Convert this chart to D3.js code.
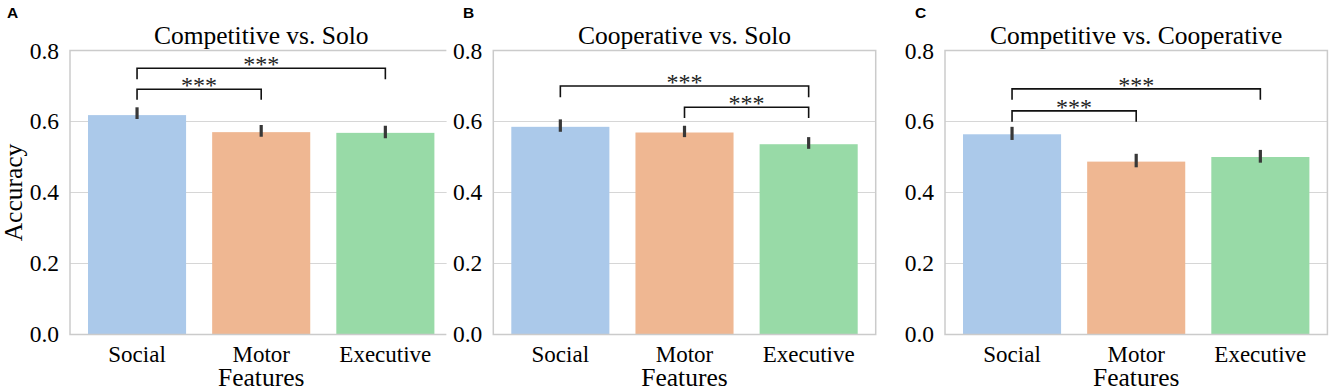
<!DOCTYPE html>
<html>
<head>
<meta charset="utf-8">
<script src="https://cdn.jsdelivr.net/npm/d3@7"></script>
<style>
  body { margin: 0; background: #fff; }
  svg { display: block; }
  text { fill: #000; }
</style>
</head>
<body>
<div id="chart"></div>
<script>
// Accuracy por conjunto de features, tres comparaciones
const features = ['Social', 'Motor', 'Executive'];
const colors = ['#abc9ea', '#efb792', '#98daa7'];
const yTicks = [0.0, 0.2, 0.4, 0.6, 0.8];

const titles = ['Competitive vs. Solo', 'Cooperative vs. Solo', 'Competitive vs. Cooperative'];
const letters = ['A', 'B', 'C'];

const means = [
  [0.618, 0.570, 0.568],
  [0.585, 0.569, 0.536],
  [0.564, 0.487, 0.500]
];
const ciLow = [
  [0.607, 0.557, 0.553],
  [0.571, 0.556, 0.523],
  [0.548, 0.471, 0.484]
];
const ciHigh = [
  [0.640, 0.590, 0.588],
  [0.606, 0.588, 0.556],
  [0.585, 0.509, 0.520]
];

// brackets: [from, to, line level, tip level]
const brackets = [
  [['Social', 'Executive', 0.750, 0.719], ['Social', 'Motor', 0.691, 0.661]],
  [['Social', 'Executive', 0.700, 0.668], ['Motor', 'Executive', 0.640, 0.610]],
  [['Social', 'Executive', 0.692, 0.661], ['Social', 'Motor', 0.630, 0.599]]
];
const sigLabel = '***';

const W = 1331, H = 391;
const panelLeft = [70, 493.3, 945];
const pw = 382.4, plotTop = 50.5, plotBottom = 334.5;
const clipA = 376.6; // el panel A viene recortado a la derecha
const serif = '"Liberation Serif", "Times New Roman", serif';

const svg = d3.select('#chart').append('svg')
  .attr('width', W).attr('height', H)
  .style('font-family', serif);

svg.append('defs').append('clipPath').attr('id', 'clipA')
  .append('rect').attr('x', -80).attr('y', -60).attr('width', clipA + 80).attr('height', H + 60);

const x = d3.scaleBand().domain(features).range([0, pw]).paddingInner(0.21).paddingOuter(0.145);
const y = d3.scaleLinear().domain([0, 0.8]).range([plotBottom - plotTop, 0]);
const ph = plotBottom - plotTop;

titles.forEach((title, p) => {
  const g = svg.append('g').attr('transform', `translate(${panelLeft[p]},${plotTop})`);
  const inner = g.append('g');
  if (p === 0) inner.attr('clip-path', 'url(#clipA)');

  // grid
  inner.append('g')
    .selectAll('line')
    .data(yTicks.filter(t => t > 0 && t < 0.8))
    .join('line')
    .attr('x1', 0).attr('x2', pw)
    .attr('y1', d => y(d)).attr('y2', d => y(d))
    .attr('stroke', '#d6d6d6').attr('stroke-width', 1.1);

  // y tick labels
  g.append('g')
    .selectAll('text')
    .data(yTicks)
    .join('text')
    .attr('x', -11)
    .attr('y', d => y(d))
    .attr('dy', '0.34em')
    .attr('text-anchor', 'end')
    .style('font-family', serif)
    .attr('font-size', 23.5)
    .text(d => d.toFixed(1));

  // bars
  inner.append('g')
    .selectAll('rect')
    .data(features)
    .join('rect')
    .attr('x', d => x(d))
    .attr('width', x.bandwidth())
    .attr('y', (d, i) => y(means[p][i]))
    .attr('height', (d, i) => y(0) - y(means[p][i]))
    .attr('fill', (d, i) => colors[i]);

  // error bars
  inner.append('g')
    .selectAll('line')
    .data(features)
    .join('line')
    .attr('x1', d => x(d) + x.bandwidth() / 2)
    .attr('x2', d => x(d) + x.bandwidth() / 2)
    .attr('y1', (d, i) => y(ciLow[p][i]))
    .attr('y2', (d, i) => y(ciHigh[p][i]))
    .attr('stroke', '#383838')
    .attr('stroke-width', 3.2);

  // spines
  const sp = 'M' + clipA + ',0H0V' + ph + 'H' + clipA;
  inner.append('path')
    .attr('d', p === 0 ? sp : `M0,0H${pw}V${ph}H0Z`)
    .attr('fill', 'none')
    .attr('stroke', '#cbcbcb')
    .attr('stroke-width', 1.5);

  // significance brackets
  const bg = inner.append('g');
  brackets[p].forEach(b => {
    const x1 = x(b[0]) + x.bandwidth() / 2;
    const x2 = x(b[1]) + x.bandwidth() / 2;
    bg.append('path')
      .attr('d', `M${x1},${y(b[3])}V${y(b[2])}H${x2}V${y(b[3])}`)
      .attr('fill', 'none')
      .attr('stroke', '#111')
      .attr('stroke-width', 1.6);
    bg.append('text')
      .attr('x', (x1 + x2) / 2)
      .attr('y', y(b[2]) + 4)
      .attr('text-anchor', 'middle')
      .attr('font-size', 24)
      .style('fill', '#222')
      .text(sigLabel);
  });

  // x tick labels
  g.append('g')
    .selectAll('text')
    .data(features)
    .join('text')
    .attr('x', d => x(d) + x.bandwidth() / 2)
    .attr('y', 362 - plotTop)
    .attr('text-anchor', 'middle')
    .attr('font-size', 23)
    .text(d => d);

  g.append('text')
    .attr('x', pw / 2)
    .attr('y', 386 - plotTop)
    .attr('text-anchor', 'middle')
    .attr('font-size', 25.5)
    .text('Features');

  g.append('text')
    .attr('x', pw / 2)
    .attr('y', 44 - plotTop)
    .attr('text-anchor', 'middle')
    .attr('font-size', 25.5)
    .text(title);

  svg.append('text')
    .attr('x', [7, 463, 915][p])
    .attr('y', 18)
    .style('font-family', '"Liberation Sans", Arial, sans-serif')
    .attr('font-weight', 'bold')
    .attr('font-size', 15.5)
    .text(letters[p]);
});

svg.append('text')
  .attr('transform', `translate(22,${(plotTop + plotBottom) / 2}) rotate(-90)`)
  .attr('text-anchor', 'middle')
  .attr('font-size', 25.5)
  .text('Accuracy');
</script>
</body>
</html>
